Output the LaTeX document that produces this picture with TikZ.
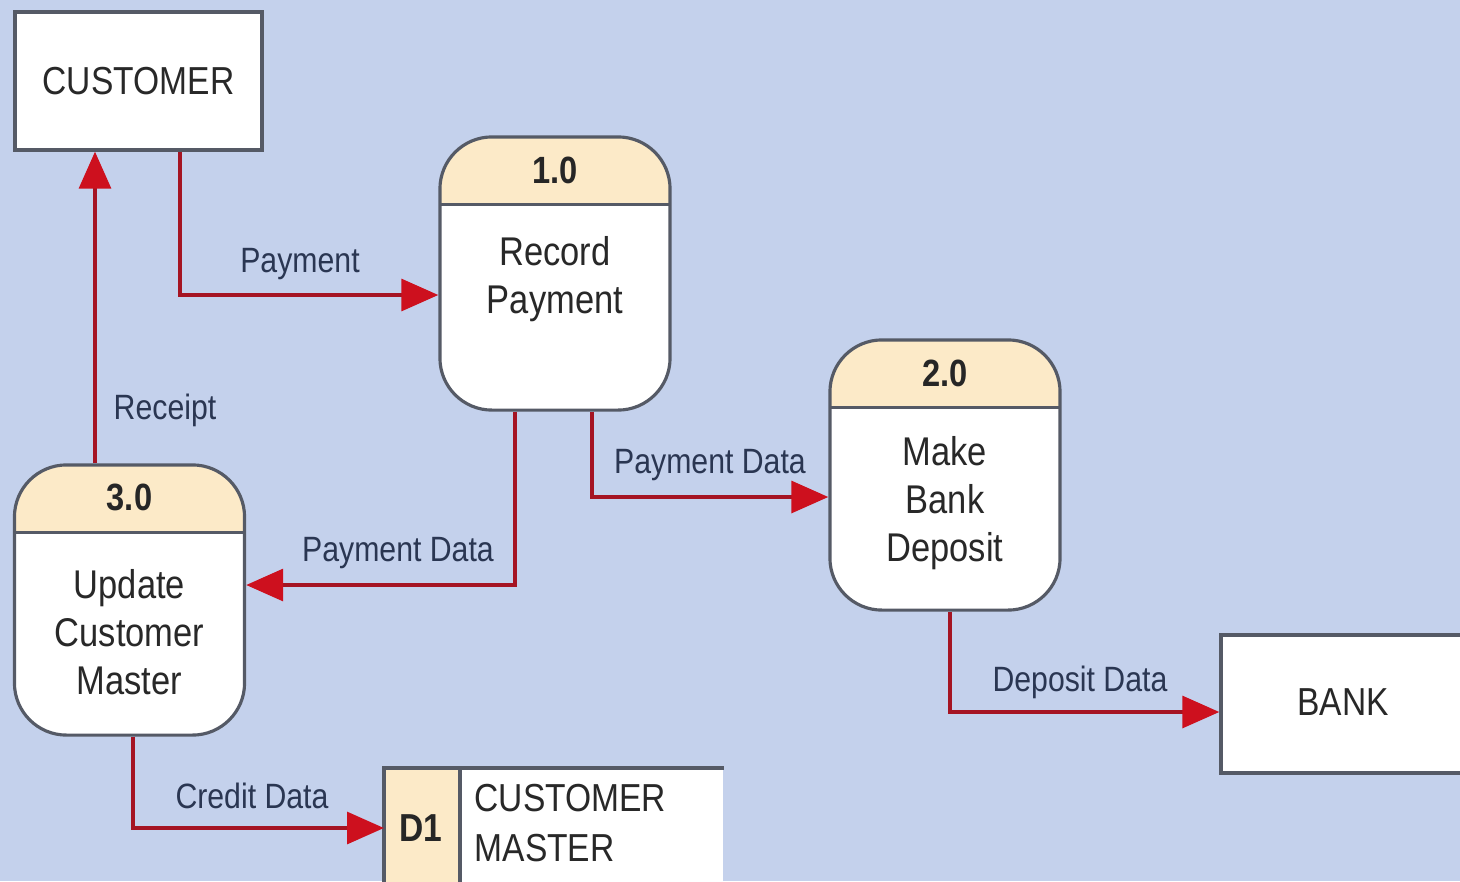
\documentclass[tikz,border=0pt]{standalone}
\usepackage{fontspec}
\setmainfont[FakeStretch=0.86]{Liberation Sans}
\usetikzlibrary{arrows.meta,calc}

\definecolor{bgblue}{RGB}{196,209,236}
\definecolor{peach}{RGB}{252,234,200}
\definecolor{edgegray}{RGB}{85,90,102}
\definecolor{flowline}{RGB}{165,20,35}
\definecolor{flowhead}{RGB}{205,16,30}
\definecolor{labelc}{RGB}{42,54,82}
\definecolor{boxtext}{RGB}{40,40,40}

\tikzset{
  entity/.style={draw=edgegray, line width=0.9pt, fill=white,
    minimum width=2.47cm, minimum height=1.38cm, inner sep=0pt,
    text=boxtext, font=\fontsize{11.1}{13}\selectfont},
  proc/.style={draw=edgegray, line width=0.9pt, fill=white,
    rounded corners=0.52cm, minimum width=2.3cm, minimum height=2.7cm, inner sep=0pt,
    path picture={
      \fill[peach, sharp corners] (path picture bounding box.north west) rectangle
        ([yshift=-0.675cm]path picture bounding box.north east);
      \draw[edgegray, line width=0.9pt, sharp corners]
        ([yshift=-0.675cm]path picture bounding box.north west) --
        ([yshift=-0.675cm]path picture bounding box.north east);
    }},
  procnum/.style={text=black!85, font=\fontsize{10.8}{13}\selectfont\bfseries},
  proctext/.style={text=boxtext, align=center, font=\fontsize{11.4}{13.7}\selectfont},
  flow/.style={draw=flowline, line width=1.15pt,
    -{Triangle[length=10.5pt, width=9pt, color=flowhead]}},
  flowlabel/.style={text=labelc, font=\fontsize{10}{12}\selectfont, inner sep=1pt},
}

\begin{document}
\begin{tikzpicture}[x=0.01cm, y=-0.01cm]
  \useasboundingbox (0,0) rectangle (1460,881);
  \fill[bgblue] (0,0) rectangle (1460,881);

  % external entities
  \node[entity] (cust) at (138.5,81) {CUSTOMER};
  \node[entity, minimum width=2.47cm] (bank) at (1344.5,704) {};
  \node[text=boxtext, font=\fontsize{11.1}{13}\selectfont] (banktxt) at (1343,702) {BANK};

  % processes
  \node[proc, minimum height=2.73cm] (p1) at (555,273.5) {};
  \node[procnum] (p1num) at (555,170) {1.0};
  \node[proctext] (p1txt) at (555,279) {Record\\Payment};

  \node[proc] (p2) at (945,475) {};
  \node[procnum] (p2num) at (945,373) {2.0};
  \node[proctext] (p2txt) at (945,503) {Make\\Bank\\Deposit};

  \node[proc] (p3) at (129.5,600) {};
  \node[procnum] (p3num) at (129.5,497) {3.0};
  \node[proctext] (p3txt) at (129.5,632) {Update\\Customer\\Master};

  % data store D1 (open on the right)
  \node[fill=white, minimum width=3.38cm, minimum height=1.2cm, inner sep=0pt,
        anchor=north west] (ds) at (384,768) {};
  \coordinate (dsdiv) at (460,768);
  \fill[peach] (ds.north west) rectangle (dsdiv |- ds.south);
  \draw[edgegray, line width=0.9pt] (ds.south west) -- (ds.north west) -- (ds.north east);
  \draw[edgegray, line width=0.9pt] (dsdiv) -- (dsdiv |- ds.south);
  \node[text=black!85, font=\fontsize{11.1}{13}\selectfont\bfseries] (dsid) at (421,828) {D1};
  \node[anchor=west, align=left, text=boxtext, inner sep=0pt,
        font=\fontsize{11.1}{14.2}\selectfont] (dsname) at (474,823) {CUSTOMER\\MASTER};

  % data flows
  \coordinate (k1) at (180,295);
  \draw[flow] (cust.south -| k1) |- (p1.west |- k1);
  \node[flowlabel] (l1) at (300,264) {Payment};

  \coordinate (k2) at (95,0);
  \draw[flow] (p3.north -| k2) -- (cust.south -| k2);
  \node[flowlabel] (l2) at (165,410) {Receipt};

  \coordinate (k3) at (515,585);
  \draw[flow] (p1.south -| k3) |- (p3.east |- k3);
  \node[flowlabel] (l3) at (398,553) {Payment Data};

  \coordinate (k4) at (592,497);
  \draw[flow] (p1.south -| k4) |- (p2.west |- k4);
  \node[flowlabel] (l4) at (710,465) {Payment Data};

  \coordinate (k5) at (950,712);
  \draw[flow] (p2.south -| k5) |- (bank.west |- k5);
  \node[flowlabel] (l5) at (1080,682) {Deposit Data};

  \coordinate (k6) at (133,828);
  \draw[flow] (p3.south -| k6) |- (ds.west |- k6);
  \node[flowlabel] (l6) at (252,796) {Credit Data};
\end{tikzpicture}
\end{document}
